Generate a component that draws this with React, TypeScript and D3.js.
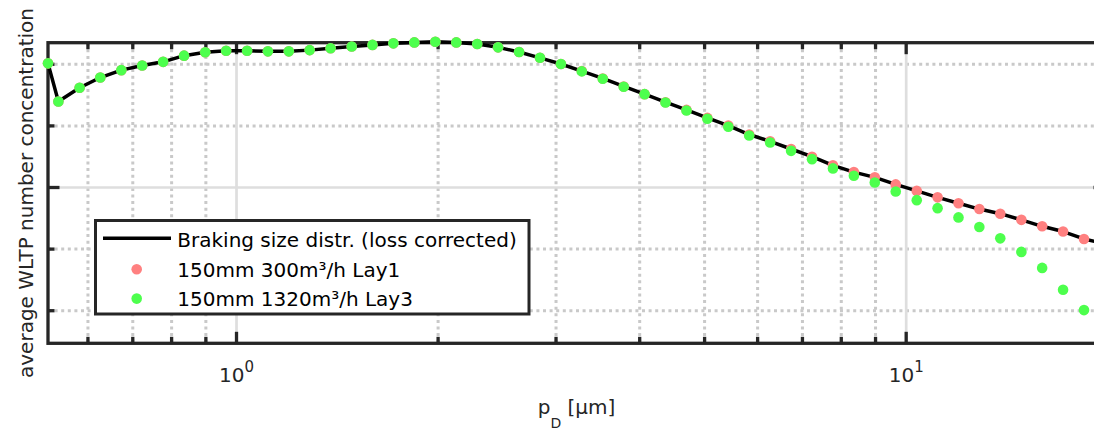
import React, { useEffect, useRef } from 'react';
import * as d3 from 'd3';

// APS channel midpoints [µm]
const diameters = [
  0.523, 0.542, 0.583, 0.626, 0.673, 0.723, 0.777, 0.835, 0.898, 0.965,
  1.037, 1.114, 1.197, 1.286, 1.382, 1.486, 1.596, 1.715, 1.843, 1.981,
  2.129, 2.288, 2.458, 2.642, 2.839, 3.051, 3.278, 3.523, 3.786, 4.068,
  4.371, 4.698, 5.048, 5.425, 5.829, 6.264, 6.732, 7.234, 7.774, 8.354,
  8.977, 9.647, 10.37, 11.14, 11.97, 12.86, 13.82, 14.86, 15.96, 17.15,
  18.43, 19.81,
];

const lossCorrected = [
  1.403, 1.279, 1.324, 1.357, 1.381, 1.396, 1.408, 1.428, 1.439, 1.444,
  1.444, 1.442, 1.442, 1.446, 1.452, 1.458, 1.463, 1.468, 1.471, 1.473,
  1.471, 1.466, 1.455, 1.440, 1.421, 1.401, 1.378, 1.354, 1.328, 1.303,
  1.277, 1.252, 1.226, 1.201, 1.172, 1.150, 1.125, 1.100, 1.072, 1.050,
  1.033, 1.010, 0.989, 0.968, 0.949, 0.930, 0.915, 0.895, 0.874, 0.857,
  0.833, 0.817,
];

const lay1 = [
  1.403, 1.279, 1.324, 1.357, 1.381, 1.396, 1.408, 1.428, 1.439, 1.444,
  1.444, 1.442, 1.442, 1.446, 1.452, 1.458, 1.463, 1.468, 1.471, 1.473,
  1.471, 1.466, 1.455, 1.440, 1.421, 1.401, 1.378, 1.354, 1.328, 1.303,
  1.277, 1.252, 1.226, 1.201, 1.172, 1.150, 1.125, 1.100, 1.072, 1.050,
  1.033, 1.010, 0.989, 0.968, 0.949, 0.930, 0.915, 0.895, 0.874, 0.857,
  0.833, 0.817,
];

const lay3 = [
  1.403, 1.279, 1.324, 1.357, 1.381, 1.396, 1.408, 1.428, 1.439, 1.444,
  1.444, 1.442, 1.442, 1.446, 1.452, 1.458, 1.463, 1.468, 1.471, 1.473,
  1.471, 1.466, 1.455, 1.440, 1.421, 1.401, 1.377, 1.353, 1.327, 1.303,
  1.276, 1.250, 1.223, 1.197, 1.169, 1.146, 1.119, 1.092, 1.062, 1.038,
  1.016, 0.987, 0.959, 0.933, 0.903, 0.872, 0.835, 0.791, 0.739, 0.668,
  0.602, 0.534,
];

const xMajorTicks = [1, 10];
const xTickExponents = ['0', '1'];
const xMinorTicks = [0.6, 0.7, 0.8, 0.9, 2, 3, 4, 5, 6, 7, 8, 9];
const yMajorTicks = [1.0];
const yMinorTicks = [0.6, 0.8, 1.2, 1.4];

const legendLabels = [
  'Braking size distr. (loss corrected)',
  '150mm 300m³/h Lay1',
  '150mm 1320m³/h Lay3',
];

const COLOR_LAY1 = '#ff8080';
const COLOR_LAY3 = '#4dff4d';
const AXIS = '#262626';
const FONT = '"DejaVu Sans", Verdana, sans-serif';

const App = () => {
  const svgRef = useRef<SVGSVGElement>(null);

  useEffect(() => {
    const svg = d3.select(svgRef.current);
    svg.selectAll('*').remove();

    const left = 48, right = 1105, top = 42.7, bottom = 343.3;

    const x = d3.scaleLog().domain([0.523, 19.81]).range([left, right]);
    const y = d3.scaleLinear().domain([0.4942, 1.4701]).range([bottom, top]);

    // grid
    const grid = svg.append('g');
    grid.selectAll('line.xminor').data(xMinorTicks).enter().append('line')
      .attr('x1', d => x(d)).attr('x2', d => x(d))
      .attr('y1', top).attr('y2', bottom)
      .attr('stroke', '#c9c9c9').attr('stroke-width', 3)
      .attr('stroke-dasharray', '3 3.6');
    grid.selectAll('line.yminor').data(yMinorTicks).enter().append('line')
      .attr('x1', left).attr('x2', right)
      .attr('y1', d => y(d)).attr('y2', d => y(d))
      .attr('stroke', '#c9c9c9').attr('stroke-width', 3)
      .attr('stroke-dasharray', '3 3.6');
    grid.selectAll('line.xmajor').data(xMajorTicks).enter().append('line')
      .attr('x1', d => x(d)).attr('x2', d => x(d))
      .attr('y1', top).attr('y2', bottom)
      .attr('stroke', '#dedede').attr('stroke-width', 2.7);
    grid.selectAll('line.ymajor').data(yMajorTicks).enter().append('line')
      .attr('x1', left).attr('x2', right)
      .attr('y1', d => y(d)).attr('y2', d => y(d))
      .attr('stroke', '#dedede').attr('stroke-width', 2.7);

    // axes box + ticks
    const ax = svg.append('g').attr('stroke', AXIS).attr('stroke-width', 3.3);
    ax.append('rect')
      .attr('x', left).attr('y', top)
      .attr('width', right - left).attr('height', bottom - top)
      .attr('fill', 'none');

    const xTicks = [
      ...xMinorTicks.map(v => ({ v, len: 6.5 })),
      ...xMajorTicks.map(v => ({ v, len: 11.5 })),
    ];
    xTicks.forEach(t => {
      ax.append('line').attr('x1', x(t.v)).attr('x2', x(t.v))
        .attr('y1', bottom).attr('y2', bottom - t.len);
      ax.append('line').attr('x1', x(t.v)).attr('x2', x(t.v))
        .attr('y1', top).attr('y2', top + t.len);
    });
    const yTicks = [
      ...yMinorTicks.map(v => ({ v, len: 6.5 })),
      ...yMajorTicks.map(v => ({ v, len: 11.5 })),
    ];
    yTicks.forEach(t => {
      ax.append('line').attr('y1', y(t.v)).attr('y2', y(t.v))
        .attr('x1', left).attr('x2', left + t.len);
      ax.append('line').attr('y1', y(t.v)).attr('y2', y(t.v))
        .attr('x1', right).attr('x2', right - t.len);
    });

    // tick labels
    xMajorTicks.forEach((v, i) => {
      const t = svg.append('text')
        .attr('x', x(v)).attr('y', 381.7)
        .attr('text-anchor', 'middle')
        .attr('font-family', FONT).attr('font-size', 20).attr('fill', AXIS)
        .text('10');
      t.append('tspan').attr('dy', -10).attr('font-size', 15)
        .text(xTickExponents[i]);
    });

    // axis labels
    const xl = svg.append('text')
      .attr('x', (left + right) / 2).attr('y', 414)
      .attr('text-anchor', 'middle')
      .attr('font-family', FONT).attr('font-size', 20).attr('fill', AXIS)
      .text('p');
    xl.append('tspan').attr('dy', 14).attr('font-size', 14).text('D');
    xl.append('tspan').attr('dy', -14).text(' [µm]');

    svg.append('text')
      .attr('transform', `translate(33,${(top + bottom) / 2}) rotate(-90)`)
      .attr('text-anchor', 'middle')
      .attr('font-family', FONT).attr('font-size', 20).attr('fill', AXIS)
      .text('average WLTP number concentration');

    // data
    const line = d3.line<number>()
      .x((_, i) => x(diameters[i]))
      .y(d => y(d));
    svg.append('path')
      .attr('d', line(lossCorrected))
      .attr('fill', 'none').attr('stroke', '#000')
      .attr('stroke-width', 3.5).attr('stroke-linejoin', 'round');

    svg.append('g').selectAll('circle').data(lay1).enter().append('circle')
      .attr('cx', (_, i) => x(diameters[i])).attr('cy', d => y(d))
      .attr('r', 5.3).attr('fill', COLOR_LAY1);
    svg.append('g').selectAll('circle').data(lay3).enter().append('circle')
      .attr('cx', (_, i) => x(diameters[i])).attr('cy', d => y(d))
      .attr('r', 5.3).attr('fill', COLOR_LAY3);

    // legend
    const lg = svg.append('g');
    lg.append('rect')
      .attr('x', 95.5).attr('y', 220.5).attr('width', 433.5).attr('height', 93.5)
      .attr('fill', '#fff').attr('stroke', AXIS).attr('stroke-width', 3);
    const rows = [247.3, 276.8, 306.3];
    lg.append('line').attr('x1', 103).attr('x2', 171)
      .attr('y1', 238.3).attr('y2', 238.3)
      .attr('stroke', '#000').attr('stroke-width', 3.5);
    lg.append('circle').attr('cx', 136.7).attr('cy', 269.3).attr('r', 5.3)
      .attr('fill', COLOR_LAY1);
    lg.append('circle').attr('cx', 136.7).attr('cy', 298.6).attr('r', 5.3)
      .attr('fill', COLOR_LAY3);
    legendLabels.forEach((label, i) => {
      lg.append('text')
        .attr('x', 177.3).attr('y', rows[i])
        .attr('font-family', FONT).attr('font-size', 20).attr('fill', '#000')
        .text(label);
    });
  }, []);

  return (
    <svg
      ref={svgRef}
      width={1094}
      height={430}
      style={{ position: 'absolute', left: 0, top: 0, background: '#fff' }}
    ></svg>
  );
};

export default App;
